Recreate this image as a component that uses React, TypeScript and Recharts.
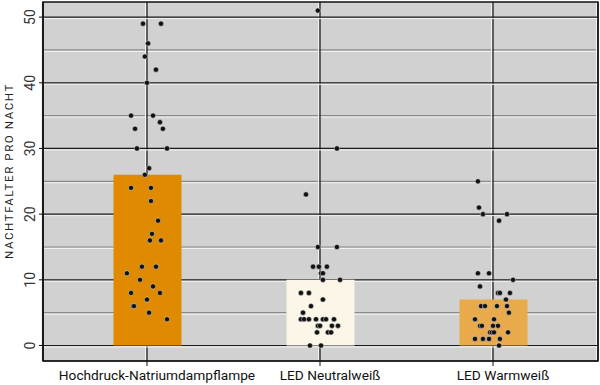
import React from 'react';
import { ComposedChart, Bar, Scatter, XAxis, YAxis, CartesianGrid, ReferenceArea, Cell } from 'recharts';

const categories = ['Hochdruck-Natriumdampflampe', 'LED Neutralweiß', 'LED Warmweiß'];
const barValues = [26, 10, 7];
const barColors = ['#DF8A00', '#FBF6E8', '#E8AA4A'];

// moths per night, single nights (jitter = horizontal offset in category units)
const hochdruckCounts = [49, 49, 46, 44, 42, 40, 35, 35, 34, 33, 33, 30, 30, 27, 26, 24, 24, 22, 19, 17, 16, 16, 12, 12, 11, 10, 9, 8, 8, 7, 6, 6, 5, 4];
const hochdruckJitter = [-0.023, 0.081, 0.006, -0.012, 0.052, 0, -0.092, 0.035, 0.075, -0.069, 0.092, -0.058, 0.116, 0.012, -0.012, -0.092, 0.023, 0.023, 0.064, 0.029, 0.017, 0.081, -0.029, 0.052, -0.116, -0.04, 0.035, -0.092, 0.075, 0, -0.081, -0.075, 0.012, 0.116];
const neutralCounts = [51, 30, 23, 15, 15, 12, 12, 12, 11, 11, 10, 10, 8, 8, 7, 6, 5, 4, 4, 4, 4, 4, 4, 4, 3, 3, 3, 3, 2, 2, 2, 0, 0];
const neutralJitter = [-0.012, 0.098, -0.081, -0.012, 0.098, -0.04, -0.006, 0.04, 0.006, 0.017, 0.017, 0.116, -0.11, -0.064, 0.017, -0.052, -0.098, -0.11, -0.092, -0.064, -0.023, 0.017, 0.035, 0.081, -0.012, 0, 0.069, 0.104, -0.017, 0.046, 0.064, -0.058, 0.006];
const warmCounts = [25, 21, 20, 20, 19, 11, 11, 10, 9, 8, 8, 8, 7, 6, 6, 6, 6, 5, 4, 4, 3, 3, 3, 3, 2, 2, 2, 2, 1, 1, 1, 1, 0];
const warmJitter = [-0.087, -0.081, -0.058, 0.081, 0.035, -0.087, -0.023, 0.116, -0.075, 0.029, 0.04, 0.098, 0.075, -0.069, -0.046, 0.023, 0.081, 0.092, -0.104, 0.006, -0.075, -0.064, 0, 0.029, -0.017, -0.006, 0.006, 0.087, -0.104, -0.058, -0.023, 0.04, 0.035];

const yTicks = [0, 10, 20, 30, 40, 50];
const yMinor = [5, 15, 25, 35, 45];
const xDomain = [0.399, 3.607];
const yDomain = [-2.36, 52.3];

const barData = categories.map((c, i) => ({ name: c, y: barValues[i] }));
const groups = [
  [hochdruckCounts, hochdruckJitter],
  [neutralCounts, neutralJitter],
  [warmCounts, warmJitter],
];
const pointData = groups.flatMap(([counts, jitter], i) =>
  counts.map((v, j) => ({ x: i + 1 + jitter[j], y: v }))
);

const FONT = 'Roboto, "Noto Sans", sans-serif';

const gridLine = (color: string) => (p: any) => (
  <g key={p.key}>
    <line x1={p.x1} y1={p.y1} x2={p.x2} y2={p.y2} stroke={color} strokeWidth={1.2} />
    <line x1={p.x1} y1={p.y1 + 1.5} x2={p.x2} y2={p.y2 + 1.5} stroke="#f2f2f2" strokeWidth={1} />
  </g>
);

const vLine = (p: any) => (
  <g key={p.key}>
    <line x1={p.x1 - 1.5} y1={p.y1} x2={p.x2 - 1.5} y2={p.y2} stroke="#f2f2f2" strokeWidth={1} />
    <line x1={p.x1} y1={p.y1} x2={p.x2} y2={p.y2} stroke="#111" strokeWidth={1.2} />
  </g>
);

const Dot = (props: any) => (
  <circle cx={props.cx} cy={props.cy} r={2.6} fill="#111" stroke="#eee" strokeOpacity={0.6} strokeWidth={0.8} />
);

const YTick = ({ x, y, payload }: any) => (
  <text x={x - 2} y={y} transform={`rotate(-90 ${x - 2} ${y})`} textAnchor="middle" fontSize={14} fill="#333" fontFamily={FONT}>
    {payload.value}
  </text>
);

const XTick = ({ x, y, payload }: any) => (
  <text x={x + 10} y={y + 12} textAnchor="middle" fontSize={13.7} fill="#111" fontFamily={FONT}>
    {payload.value}
  </text>
);

export default function App() {
  return (
    <div style={{ position: 'absolute', left: 0, top: 0 }}>
      <ComposedChart width={600} height={385} data={barData} margin={{ top: 2, right: 2, left: 0, bottom: 0 }}>
        <CartesianGrid fill="#D1D1D1" horizontalValues={yMinor} horizontal={gridLine('#8a8a8a')} vertical={vLine} stroke="#111" />
        <CartesianGrid horizontalValues={yTicks} horizontal={gridLine('#1a1a1a')} vertical={false} />
        <XAxis
          dataKey="name"
          padding={{ left: 17.5, right: 18.5 }}
          tick={<XTick />}
          tickLine={{ stroke: '#111' }}
          tickSize={5}
          axisLine={{ stroke: '#111' }}
          height={24}
          interval={0}
        />
        <XAxis xAxisId="num" type="number" dataKey="x" domain={xDomain} allowDataOverflow hide />
        <YAxis
          type="number"
          dataKey="y"
          domain={yDomain}
          allowDataOverflow
          ticks={yTicks}
          tick={<YTick />}
          tickLine={{ stroke: '#111' }}
          tickSize={4}
          axisLine={{ stroke: '#111' }}
          width={43}
          label={{
            content: () => (
              <text x={13} y={171} transform="rotate(-90 13 171)" textAnchor="middle" fontSize={11.5} letterSpacing={1.6} fill="#222" fontFamily={FONT}>
                NACHTFALTER PRO NACHT
              </text>
            ),
          }}
        />
        <Bar dataKey="y" barSize={68} isAnimationActive={false}>
          {barData.map((d, i) => (
            <Cell key={i} fill={barColors[i]} />
          ))}
        </Bar>
        <Scatter xAxisId="num" data={pointData} dataKey="y" shape={<Dot />} isAnimationActive={false} />
        <ReferenceArea xAxisId="num" x1={xDomain[0]} x2={xDomain[1]} y1={yDomain[0]} y2={yDomain[1]} fill="none" stroke="#111" strokeWidth={1.5} ifOverflow="visible" />
      </ComposedChart>
    </div>
  );
}
